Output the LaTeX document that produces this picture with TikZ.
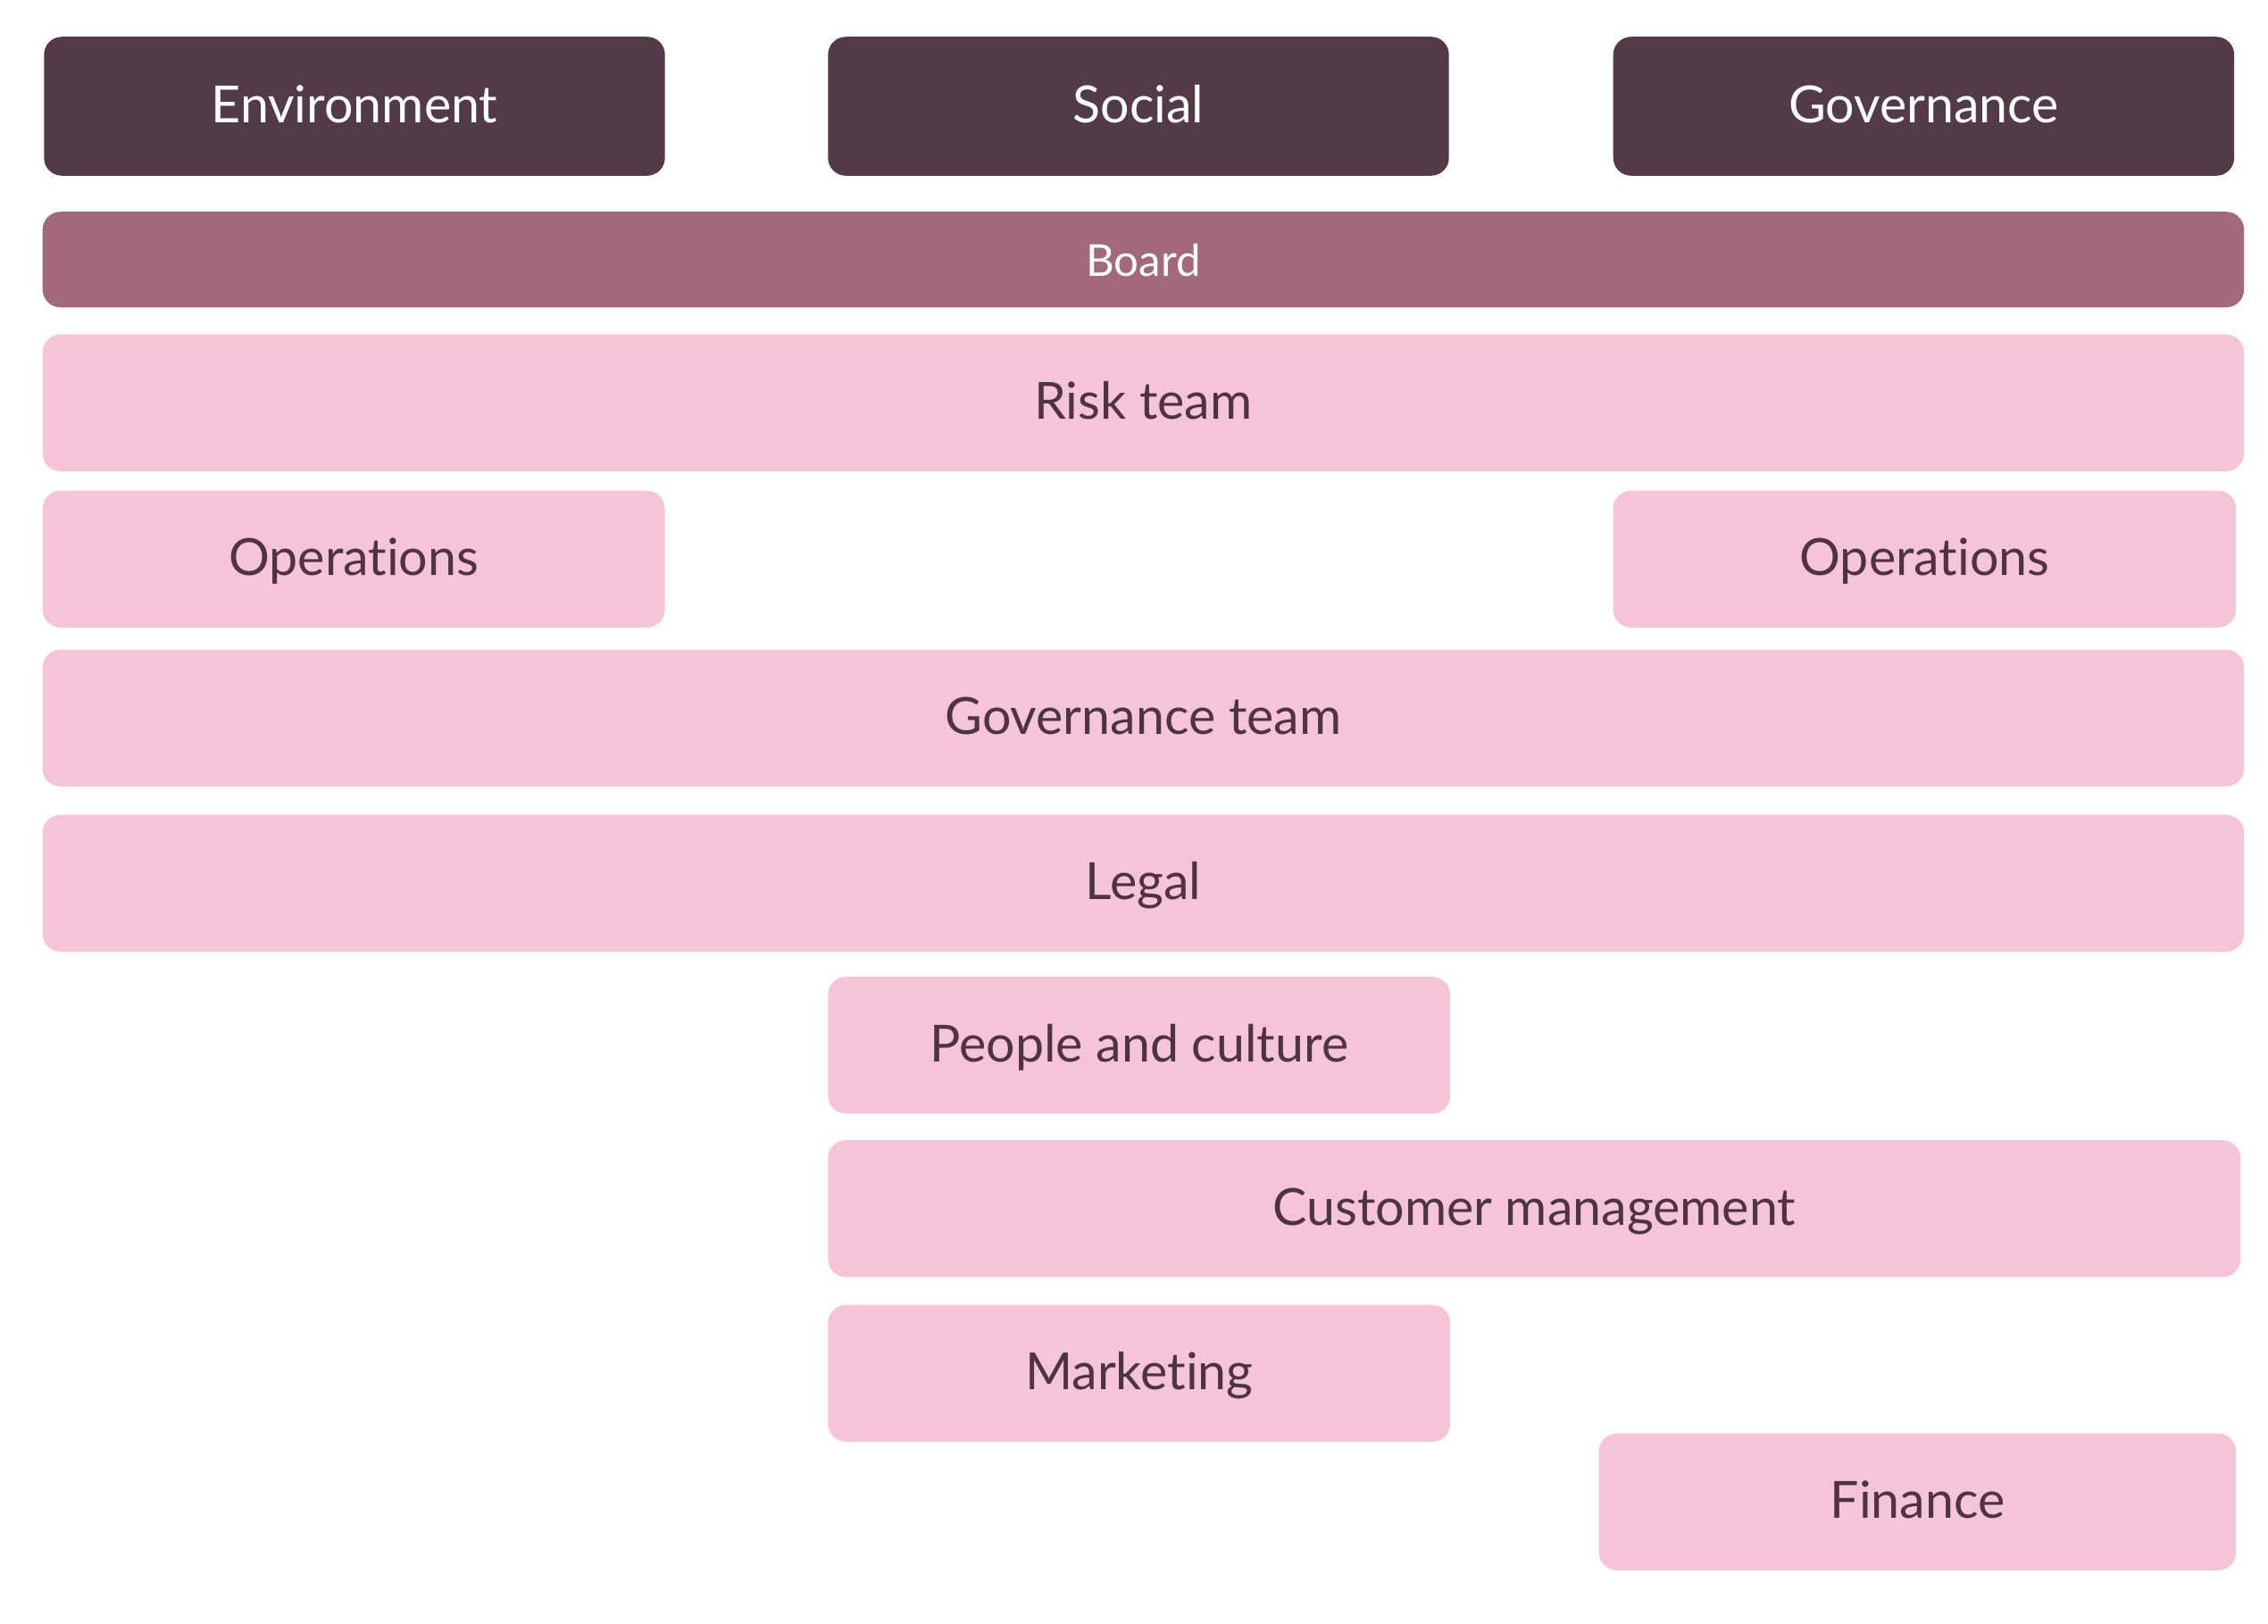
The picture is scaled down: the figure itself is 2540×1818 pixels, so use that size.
\documentclass[tikz,border=0pt]{standalone}
\usepackage{fontspec}
\setmainfont{Lato}[Ligatures=NoCommon]
\usepackage{tikz}
\definecolor{plum}{HTML}{523A46}
\definecolor{mauve}{HTML}{A3687B}
\definecolor{blush}{HTML}{F5C4D6}
\definecolor{ink}{HTML}{4E3442}
\tikzset{
	box/.style={rectangle, rounded corners=0.2cm, inner sep=0pt, anchor=north west, text height=1.05em, text depth=0pt},
	pillar/.style={box, fill=plum, text=white, font=\fontsize{16.3}{19}\selectfont, minimum width=6.95cm, minimum height=1.555cm},
	board/.style={box, fill=mauve, text=white, font=\fontsize{14}{17}\selectfont, minimum width=24.64cm, minimum height=1.07cm},
	unit/.style={box, fill=blush, text=ink, font=\fontsize{16.3}{19}\selectfont, minimum height=1.53cm}
}
\begin{document}
\begin{tikzpicture}[x=0.01cm,y=-0.01cm]
\useasboundingbox (0,0) rectangle (2540,1818);
\node[pillar]							(env)		at (48.6,40.5)					{Environment};
\node[pillar]							(soc)		at (926.6,40.5)					{Social};
\node[pillar]							(gov)		at (1806,40.5)					{Governance};
\node[board]							(brd)		at (47,236.5)					{Board};
\node[unit, minimum width=24.64cm]		(risk)		at (47,374)						{Risk team};
\node[unit, minimum width=6.965cm]		(ops_e)		at (47,549)						{Operations};
\node[unit, minimum width=6.97cm]		(ops_g)		at (1806,549)					{Operations};
\node[unit, minimum width=24.64cm]		(govt)		at (47,727)						{Governance team};
\node[unit, minimum width=24.64cm]		(legal)		at (47,912)						{Legal};
\node[unit, minimum width=6.965cm]		(ppl)		at (926.6,1093.5)				{People and culture};
\node[unit, minimum width=15.81cm]		(cust)		at (926.6,1276.5)				{Customer management};
\node[unit, minimum width=6.965cm]		(mkt)		at (926.6,1461)					{Marketing};
\node[unit, minimum width=7.13cm]		(fin)		at (1790,1605)					{Finance};
\end{tikzpicture}
\end{document}
